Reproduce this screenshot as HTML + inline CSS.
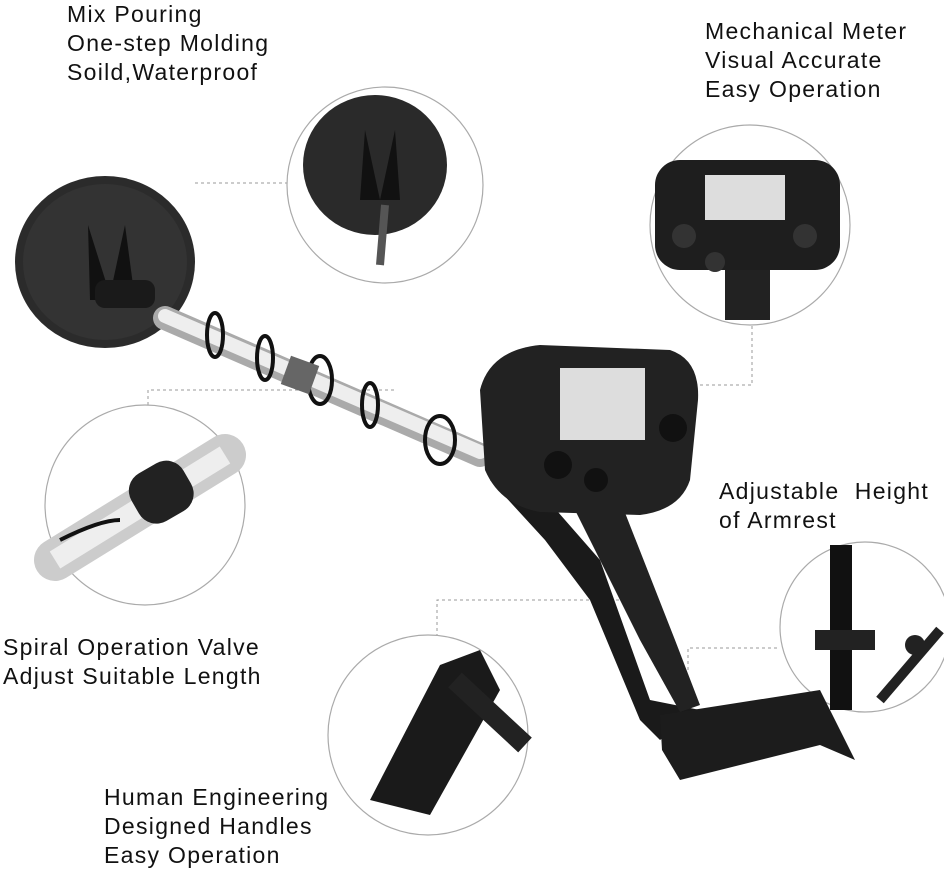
<!DOCTYPE html>
<html><head><style>
body{margin:0;width:944px;height:871px;background:#fff;overflow:hidden;position:relative;font-family:"Liberation Sans",sans-serif}
.t{position:absolute;font-size:23px;line-height:29px;color:#111;letter-spacing:1.3px;white-space:pre}
</style></head><body>
<svg width="944" height="871" style="position:absolute;left:0;top:0">
<g stroke="#999" stroke-dasharray="3,3" fill="none" stroke-width="1">
<path d="M195 183H287"/><path d="M148 405V390H395"/><path d="M700 385H752V325"/><path d="M437 655V600H627"/><path d="M688 670V648H780"/>
</g>
<g stroke="#aaa" stroke-width="1.2" fill="#fff">
<circle cx="385" cy="185" r="98"/><circle cx="750" cy="225" r="100"/><circle cx="145" cy="505" r="100"/><circle cx="865" cy="627" r="85"/><circle cx="428" cy="735" r="100"/>
</g>
<ellipse cx="375" cy="165" rx="72" ry="70" fill="#2a2a2a"/>
<path d="M365 130L380 200 395 130 400 200H360Z" fill="#111"/>
<path d="M385 205L380 265" stroke="#555" stroke-width="8"/>
<rect x="655" y="160" width="185" height="110" rx="25" fill="#1e1e1e"/>
<rect x="705" y="175" width="80" height="45" fill="#ddd"/>
<circle cx="684" cy="236" r="12" fill="#333"/><circle cx="805" cy="236" r="12" fill="#333"/><circle cx="715" cy="262" r="10" fill="#333"/>
<rect x="725" y="270" width="45" height="50" fill="#222"/>
<path d="M55 560L225 455" stroke="#ccc" stroke-width="42" stroke-linecap="round"/>
<path d="M55 560L225 455" stroke="#eee" stroke-width="20"/>
<rect x="130" y="465" width="60" height="55" rx="20" fill="#222" transform="rotate(-30 160 490)"/>
<path d="M60 540Q100 520 120 520" stroke="#111" stroke-width="4" fill="none"/>
<rect x="830" y="545" width="22" height="165" fill="#111"/>
<rect x="815" y="630" width="60" height="20" fill="#222"/>
<path d="M880 700L940 630" stroke="#222" stroke-width="10"/>
<circle cx="915" cy="645" r="10" fill="#222"/>
<path d="M370 800L440 665 480 650 500 690 430 815Z" fill="#1a1a1a"/>
<path d="M455 680L525 745" stroke="#222" stroke-width="20"/>
<ellipse cx="105" cy="262" rx="90" ry="86" fill="#2b2b2b"/>
<ellipse cx="105" cy="262" rx="82" ry="78" fill="#333"/>
<path d="M88 225L110 295 125 225 135 300H90Z" fill="#111"/>
<rect x="95" y="280" width="60" height="28" rx="10" fill="#1a1a1a"/>
<path d="M165 318L480 455" stroke="#aaa" stroke-width="24" stroke-linecap="round"/>
<path d="M165 316L480 452" stroke="#eee" stroke-width="14" stroke-linecap="round"/>
<g stroke="#111" stroke-width="4" fill="none">
<ellipse cx="215" cy="335" rx="8" ry="22"/><ellipse cx="265" cy="358" rx="8" ry="22"/><ellipse cx="320" cy="380" rx="12" ry="24"/><ellipse cx="370" cy="405" rx="8" ry="22"/><ellipse cx="440" cy="440" rx="15" ry="24"/>
</g>
<rect x="285" y="360" width="30" height="30" fill="#666" transform="rotate(20 300 375)"/>
<path d="M490 480L530 480 600 560 650 700 700 710 660 740 640 720 590 600 545 540Z" fill="#1a1a1a"/>
<path d="M570 500L620 500 675 640 700 705 680 712 640 640Z" fill="#222"/>
<path d="M660 715L820 690 855 760 820 745 680 780 662 750Z" fill="#1c1c1c"/>
<path d="M480 390Q490 350 540 345L670 350Q700 360 698 400L690 480Q680 510 640 515L540 512Q500 505 485 470Z" fill="#222"/>
<rect x="560" y="368" width="85" height="72" fill="#ddd"/>
<circle cx="558" cy="465" r="14" fill="#111"/><circle cx="673" cy="428" r="14" fill="#111"/><circle cx="596" cy="480" r="12" fill="#111"/>
</svg>
<div class="t" style="left:67px;top:0px">Mix Pouring
One-step Molding
Soild,Waterproof</div>
<div class="t" style="left:705px;top:17px">Mechanical Meter
Visual Accurate
Easy Operation</div>
<div class="t" style="left:719px;top:477px">Adjustable  Height
of Armrest</div>
<div class="t" style="left:3px;top:633px">Spiral Operation Valve
Adjust Suitable Length</div>
<div class="t" style="left:104px;top:783px">Human Engineering
Designed Handles
Easy Operation</div>
</body></html>
